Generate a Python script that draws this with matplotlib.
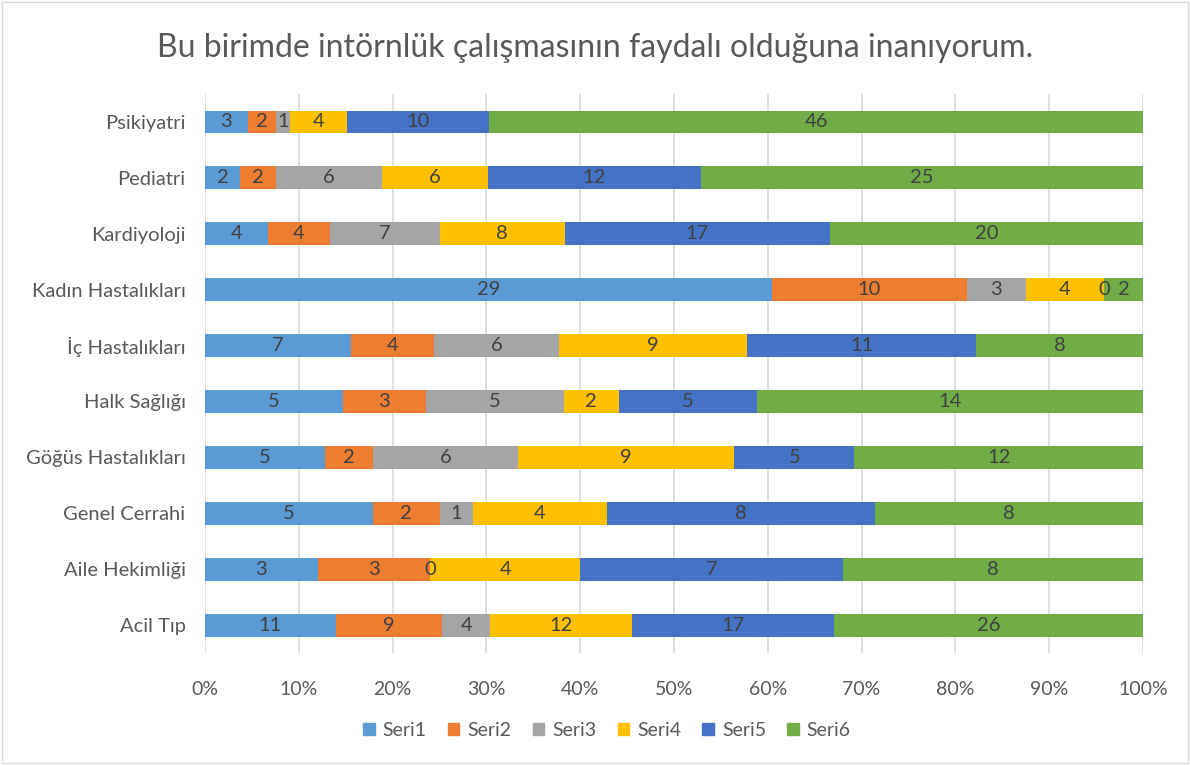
import matplotlib
matplotlib.use("Agg")
import matplotlib.pyplot as plt
import numpy as np
from matplotlib.patches import Rectangle

categories = ["Acil Tıp", "Aile Hekimliği", "Genel Cerrahi", "Göğüs Hastalıkları",
              "Halk Sağlığı", "İç Hastalıkları", "Kadın Hastalıkları", "Kardiyoloji",
              "Pediatri", "Psikiyatri"]
seri1 = [11, 3, 5, 5, 5, 7, 29, 4, 2, 3]
seri2 = [9, 3, 2, 2, 3, 4, 10, 4, 2, 2]
seri3 = [4, 0, 1, 6, 5, 6, 3, 7, 6, 1]
seri4 = [12, 4, 4, 9, 2, 9, 4, 8, 6, 4]
seri5 = [17, 7, 8, 5, 5, 11, 0, 17, 12, 10]
seri6 = [26, 8, 8, 12, 14, 8, 2, 20, 25, 46]
series_names = ["Seri1", "Seri2", "Seri3", "Seri4", "Seri5", "Seri6"]
colors = ["#5B9BD5", "#ED7D31", "#A5A5A5", "#FFC000", "#4472C4", "#70AD47"]
title = "Bu birimde intörnlük çalışmasının faydalı olduğuna inanıyorum."

plt.rcParams['font.family'] = ['Lato', 'DejaVu Sans']

data = np.array([seri1, seri2, seri3, seri4, seri5, seri6], dtype=float)
totals = data.sum(axis=0)
pct = data / totals * 100

fig = plt.figure(figsize=(11.9, 7.65), dpi=100)
ax = fig.add_axes([0.1723, 0.1464, 0.9605 - 0.1723, 0.8771 - 0.1464])

y = np.arange(len(categories))
left = np.zeros(len(categories))
for i in range(6):
    ax.barh(y, pct[i], left=left, height=0.41, color=colors[i], label=series_names[i], zorder=3)
    for j in range(len(categories)):
        cx = left[j] + pct[i][j] / 2
        ax.text(cx, y[j], f"{int(data[i][j])}", ha="center", va="center",
                fontsize=14.5, color="#404040", zorder=4)
    left += pct[i]

ax.set_xlim(0, 100)
ax.set_ylim(-0.5, len(categories) - 0.5)
ax.set_yticks(y)
ax.set_yticklabels(categories, fontsize=14.5, color="#595959")
ax.set_xticks(np.arange(0, 101, 10))
ax.set_xticklabels([f"{v}%" for v in range(0, 101, 10)], fontsize=14, color="#595959")
ax.tick_params(axis="y", length=0, pad=14)
ax.tick_params(axis="x", length=0, pad=20)
ax.grid(axis="x", color="#D9D9D9", linewidth=1.2, zorder=0)
for s in ax.spines.values():
    s.set_visible(False)

fig.text(0.5, 0.937, title, ha="center", va="center", fontsize=23, color="#595959")

handles = [Rectangle((0, 0), 1, 1, color=c) for c in colors]
fig.legend(handles, series_names, loc="center", bbox_to_anchor=(0.51, 0.045), ncol=6,
           frameon=False, fontsize=14, handlelength=0.6, handleheight=0.6,
           columnspacing=1.1, handletextpad=0.4, labelcolor="#595959")

fig.patches.append(Rectangle((0.002, 0.002), 0.996, 0.996, transform=fig.transFigure,
                             fill=False, edgecolor="#D9D9D9", linewidth=1))

fig.savefig("out.png", dpi=100, facecolor="white")
